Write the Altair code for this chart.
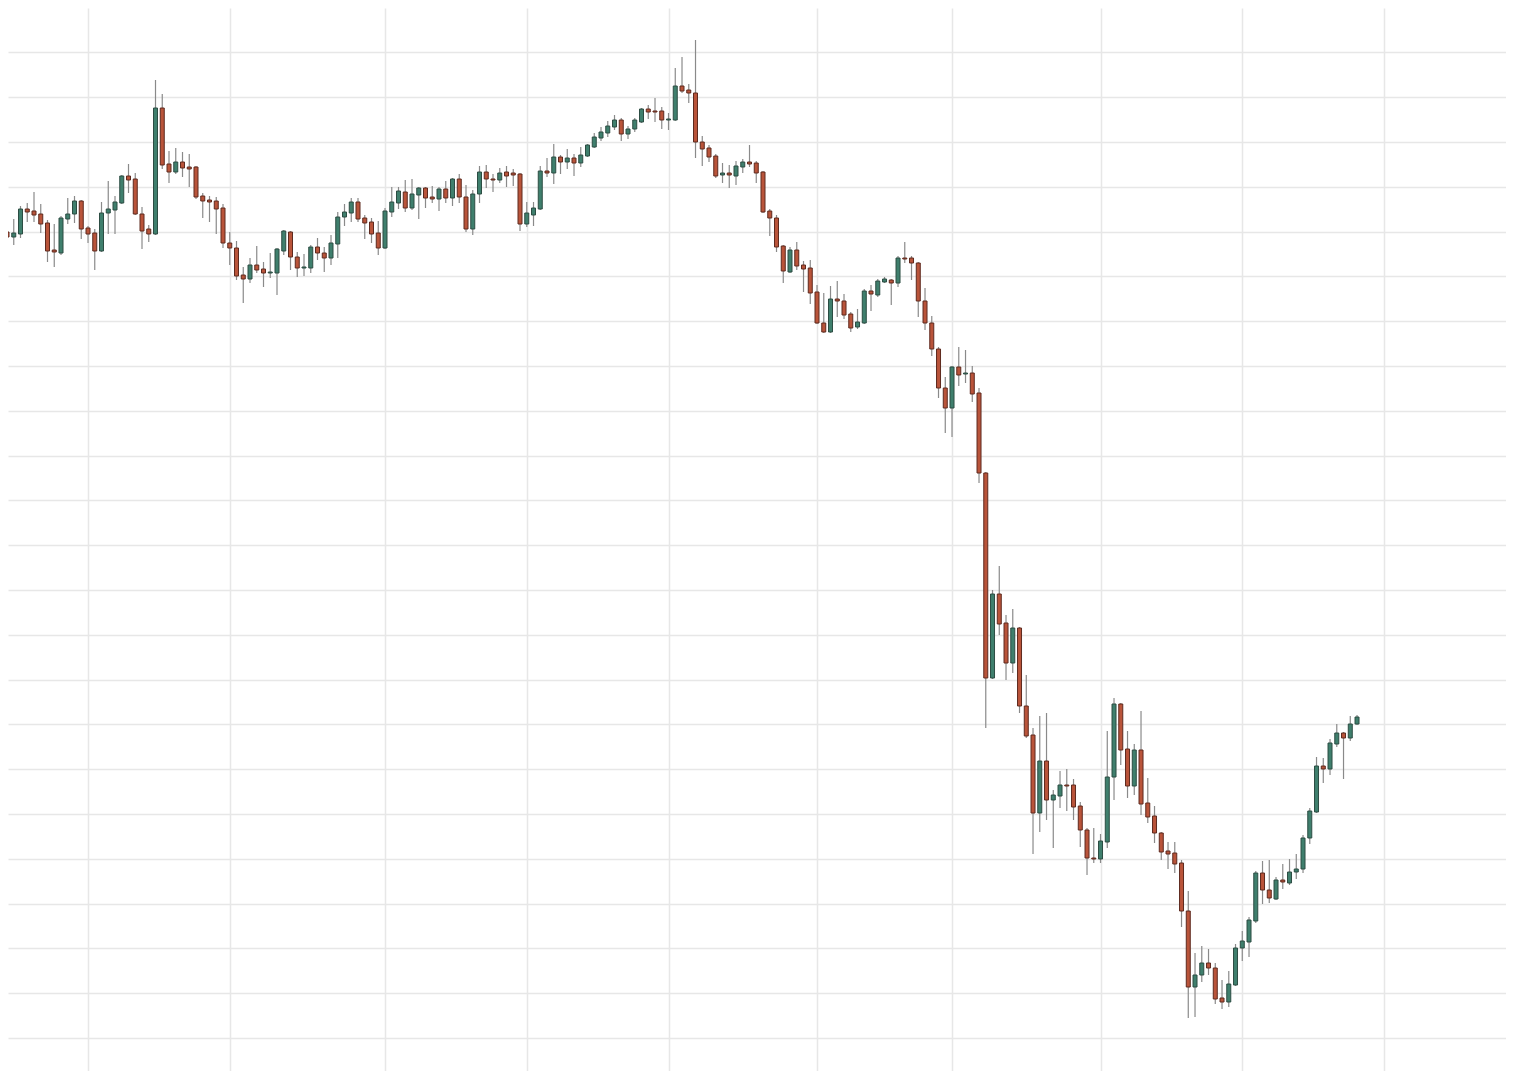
import altair as alt
import pandas as pd

# Daily candles (arbitrary price units)
open_ = [1838,1806,1801,1804,1829,1827,1824,1815,1788,1785,1819,1824,1837,1810,1805,1787,1825,1828,1835,1862,
         1859,1824,1809,1804,1930,1874,1866,1876,1871,1871,1842,1838,1837,1830,1795,1790,1763,1759,1773,1769,
         1765,1765,1787,1806,1781,1770,1770,1791,1785,1780,1794,1821,1825,1836,1820,1816,1805,1790,1826,1835,
         1846,1830,1843,1850,1841,1839,1849,1840,1859,1841,1809,1844,1866,1859,1858,1866,1865,1864,1814,1823,
         1829,1867,1865,1881,1876,1880,1875,1882,1891,1900,1905,1911,1918,1904,1909,1916,1929,1927,1927,1918,
         1918,1952,1948,1945,1896,1890,1882,1863,1865,1862,1871,1876,1875,1866,1827,1820,1792,1766,1788,1773,
         1770,1746,1715,1706,1739,1737,1724,1711,1715,1747,1743,1756,1758,1755,1780,1780,1775,1737,1715,1689,
         1650,1630,1671,1664,1665,1645,1565,1360,1444,1415,1375,1410,1332,1303,1225,1277,1238,1242,1253,1253,
         1232,1208,1180,1179,1196,1261,1334,1289,1252,1288,1235,1222,1205,1187,1185,1175,1127,1051,1063,1075,
         1070,1040,1036,1053,1090,1096,1117,1165,1148,1139,1158,1155,1166,1169,1200,1226,1272,1269,1294,1305,
         1300,1314]
close = [1808,1801,1805,1829,1826,1823,1814,1787,1786,1820,1824,1837,1809,1804,1787,1825,1829,1836,1862,1858,
         1824,1807,1804,1930,1873,1866,1876,1870,1869,1841,1837,1836,1829,1795,1790,1762,1759,1773,1768,1765,
         1766,1789,1807,1781,1770,1771,1791,1785,1780,1795,1821,1826,1836,1819,1815,1804,1790,1827,1836,1847,
         1830,1844,1850,1840,1839,1849,1840,1859,1841,1809,1844,1866,1859,1858,1865,1862,1863,1814,1825,1830,
         1867,1865,1881,1876,1880,1875,1883,1893,1901,1906,1912,1918,1904,1909,1918,1929,1926,1926,1918,1919,
         1952,1947,1945,1896,1889,1881,1862,1865,1863,1872,1876,1874,1865,1826,1820,1791,1767,1788,1772,1769,
         1745,1715,1706,1739,1737,1723,1710,1716,1747,1744,1757,1759,1755,1780,1779,1775,1737,1715,1689,1650,
         1630,1671,1663,1665,1644,1565,1360,1444,1414,1375,1410,1332,1302,1225,1277,1238,1243,1253,1252,1231,
         1208,1180,1179,1197,1261,1334,1288,1252,1288,1234,1221,1205,1186,1184,1174,1127,1051,1063,1075,1070,
         1039,1036,1054,1090,1097,1118,1165,1148,1140,1158,1156,1166,1169,1200,1227,1272,1269,1295,1305,1300,
         1314,1321]
high = [1840,1813,1819,1832,1835,1846,1834,1818,1814,1822,1840,1842,1838,1812,1809,1836,1857,1842,1863,1874,
        1865,1831,1813,1958,1944,1887,1890,1886,1884,1872,1845,1842,1841,1834,1806,1797,1771,1780,1792,1776,
        1785,1790,1808,1807,1786,1784,1793,1800,1791,1803,1826,1834,1840,1840,1823,1820,1817,1830,1851,1851,
        1858,1859,1851,1851,1852,1851,1857,1860,1864,1853,1848,1872,1873,1864,1870,1872,1869,1865,1836,1836,
        1872,1880,1894,1883,1889,1884,1891,1894,1905,1911,1917,1923,1920,1912,1920,1930,1933,1940,1931,1925,
        1970,1981,1954,1998,1902,1893,1884,1875,1873,1877,1879,1893,1877,1867,1829,1823,1793,1791,1796,1777,
        1778,1753,1745,1752,1757,1744,1726,1729,1749,1753,1759,1761,1759,1782,1796,1782,1776,1750,1722,1691,
        1661,1672,1691,1688,1672,1650,1566,1448,1472,1423,1429,1411,1363,1310,1322,1325,1248,1267,1269,1259,
        1236,1210,1210,1204,1307,1340,1335,1307,1294,1327,1260,1232,1206,1196,1196,1178,1147,1085,1092,1089,
        1075,1058,1067,1094,1107,1121,1167,1177,1178,1161,1174,1179,1184,1203,1230,1281,1280,1299,1314,1306,
        1322,1323]
low = [1786,1785,1793,1800,1816,1816,1805,1776,1771,1783,1814,1815,1799,1795,1768,1786,1804,1804,1834,1845,
       1823,1789,1796,1803,1869,1855,1864,1861,1851,1839,1820,1816,1804,1790,1773,1758,1735,1755,1765,1751,
       1760,1743,1783,1768,1761,1762,1765,1778,1766,1773,1780,1812,1816,1816,1799,1795,1783,1789,1821,1829,
       1826,1828,1819,1830,1835,1827,1835,1832,1835,1806,1803,1835,1850,1846,1855,1851,1852,1807,1811,1812,
       1828,1861,1854,1864,1869,1862,1871,1881,1890,1897,1901,1908,1897,1899,1906,1915,1919,1916,1909,1908,
       1917,1945,1935,1880,1872,1876,1860,1855,1850,1853,1865,1871,1855,1825,1802,1786,1755,1765,1768,1746,
       1734,1714,1705,1705,1721,1719,1706,1709,1714,1727,1741,1755,1733,1751,1775,1758,1721,1708,1682,1640,
       1605,1601,1652,1655,1636,1555,1310,1359,1403,1358,1365,1325,1300,1184,1206,1218,1190,1230,1227,1218,
       1191,1163,1175,1175,1190,1238,1273,1240,1243,1223,1215,1195,1178,1169,1165,1111,1020,1021,1056,1063,
       1034,1029,1031,1052,1077,1081,1115,1134,1135,1138,1149,1153,1159,1165,1194,1225,1255,1263,1291,1259,
       1297,1313]

# Month-start sessions (vertical grid) and horizontal price grid levels
month_starts = [13, 34, 57, 78, 99, 121, 141, 163, 184, 205]
price_grid = [1000, 1044.8, 1089.6, 1134.4, 1179.2, 1224, 1268.8, 1313.6, 1358.4, 1403.2, 1448, 1492.8,
              1537.6, 1582.4, 1627.2, 1672, 1716.8, 1761.6, 1806.4, 1851.2, 1896, 1940.8, 1985.6, 2030.4]

df = pd.DataFrame({
    "day": list(range(len(open_))),
    "open": open_, "close": close, "high": high, "low": low,
})
df["dir"] = ["up" if c >= o else "down" for o, c in zip(open_, close)]

GRID = "#e7e7e7"
x_enc = alt.X("day:Q",
              scale=alt.Scale(domain=[1.148, 223.07], nice=False, zero=False, padding=0),
              axis=alt.Axis(values=month_starts, labels=False, ticks=False, domain=False,
                            grid=True, gridColor=GRID, gridWidth=1.5, title=None))
y_axis = alt.Axis(values=price_grid, labels=False, ticks=False, domain=False,
                  grid=True, gridColor=GRID, gridWidth=1.5, title=None)
y_scale = alt.Scale(domain=[967, 2030], nice=False, zero=False, padding=0)

base = alt.Chart(df)

wicks = base.mark_rule(color="#8a8a8a", strokeWidth=1.2, clip=True).encode(
    x=x_enc,
    y=alt.Y("low:Q", scale=y_scale, axis=y_axis),
    y2="high:Q",
)

bodies = base.mark_bar(size=4, strokeWidth=1, clip=True).encode(
    x=x_enc,
    y=alt.Y("open:Q", scale=y_scale, axis=y_axis),
    y2="close:Q",
    color=alt.Color("dir:N", scale=alt.Scale(domain=["up", "down"], range=["#3f7f6d", "#b9543a"]), legend=None),
    stroke=alt.Stroke("dir:N", scale=alt.Scale(domain=["up", "down"], range=["#2c4d43", "#5e2a1f"]), legend=None),
)

chart = alt.layer(wicks, bodies).properties(
    width=1498, height=1063,
    autosize=alt.AutoSizeParams(type="none"),
    padding=0,
    background="white",
).configure_view(strokeWidth=0)

chart.save("out.html", embed_options={"renderer": "svg", "actions": False})
